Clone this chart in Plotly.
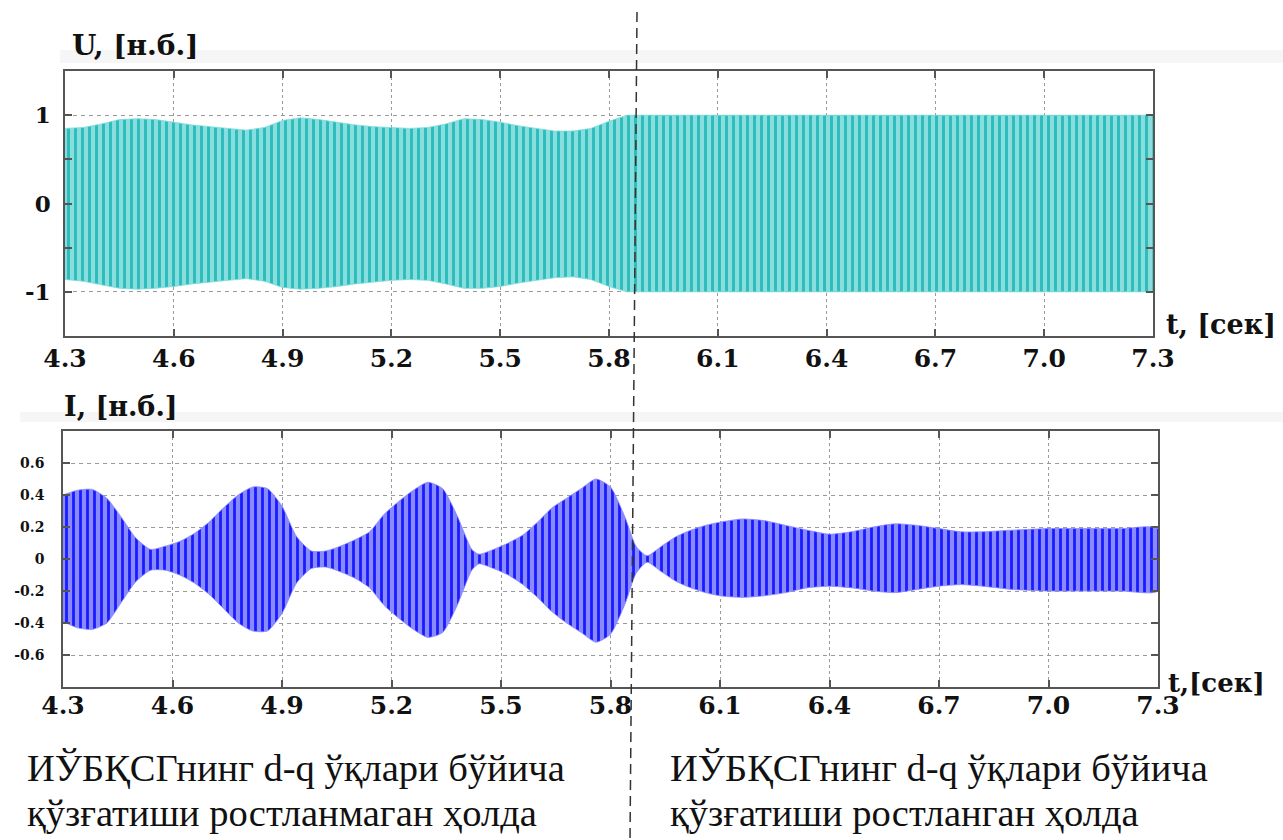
import plotly.graph_objects as go

W, H = 1283, 840

# ---------------- data ----------------
u_t = [4.30, 4.35, 4.40, 4.45, 4.50, 4.55, 4.60, 4.65, 4.70, 4.75, 4.80, 4.85,
       4.90, 4.95, 5.00, 5.05, 5.10, 5.15, 5.20, 5.25, 5.30, 5.35, 5.40, 5.45,
       5.50, 5.55, 5.60, 5.65, 5.70, 5.75, 5.80, 5.85, 5.90, 6.50, 7.30]
u_upper = [0.85, 0.86, 0.90, 0.95, 0.96, 0.95, 0.92, 0.89, 0.87, 0.85, 0.83, 0.86,
           0.94, 0.97, 0.95, 0.92, 0.89, 0.87, 0.86, 0.85, 0.86, 0.90, 0.96, 0.95,
           0.92, 0.88, 0.85, 0.82, 0.82, 0.85, 0.93, 1.00, 1.00, 1.00, 1.00]
u_lower = [-0.86, -0.88, -0.92, -0.96, -0.97, -0.96, -0.94, -0.91, -0.89, -0.87, -0.85, -0.88,
           -0.95, -0.97, -0.96, -0.94, -0.91, -0.89, -0.87, -0.86, -0.87, -0.91, -0.96, -0.96,
           -0.94, -0.90, -0.87, -0.84, -0.83, -0.86, -0.94, -1.00, -1.00, -1.00, -1.00]

i_t = [4.30, 4.34, 4.38, 4.42, 4.46, 4.50, 4.54, 4.58, 4.62, 4.66, 4.70, 4.74,
       4.78, 4.82, 4.86, 4.90, 4.94, 4.98, 5.02, 5.06, 5.10, 5.14, 5.18, 5.22,
       5.26, 5.30, 5.34, 5.38, 5.42, 5.44, 5.48, 5.52, 5.56, 5.60, 5.64, 5.68,
       5.72, 5.76, 5.80, 5.84, 5.87, 5.90, 5.94, 5.98, 6.02, 6.06, 6.10, 6.16,
       6.22, 6.28, 6.34, 6.40, 6.46, 6.52, 6.58, 6.64, 6.70, 6.76, 6.82, 6.90,
       7.00, 7.10, 7.20, 7.30]
i_upper = [0.40, 0.43, 0.435, 0.38, 0.26, 0.13, 0.06, 0.08, 0.11, 0.16, 0.23, 0.32,
           0.40, 0.45, 0.44, 0.33, 0.14, 0.05, 0.05, 0.08, 0.12, 0.17, 0.28, 0.36,
           0.43, 0.48, 0.44, 0.27, 0.06, 0.03, 0.06, 0.10, 0.15, 0.23, 0.32, 0.38,
           0.44, 0.50, 0.45, 0.26, 0.08, 0.02, 0.08, 0.14, 0.18, 0.21, 0.23, 0.25,
           0.24, 0.21, 0.18, 0.155, 0.17, 0.20, 0.22, 0.21, 0.19, 0.17, 0.17, 0.18,
           0.19, 0.19, 0.19, 0.19]
i_lower = [-0.39, -0.43, -0.44, -0.40, -0.27, -0.14, -0.07, -0.07, -0.10, -0.15, -0.22, -0.31,
           -0.40, -0.45, -0.45, -0.34, -0.15, -0.06, -0.05, -0.08, -0.12, -0.18, -0.29, -0.37,
           -0.44, -0.49, -0.46, -0.29, -0.07, -0.03, -0.06, -0.10, -0.16, -0.24, -0.33, -0.40,
           -0.46, -0.52, -0.47, -0.28, -0.09, -0.02, -0.08, -0.14, -0.18, -0.21, -0.23, -0.24,
           -0.23, -0.21, -0.18, -0.17, -0.18, -0.20, -0.21, -0.19, -0.17, -0.16, -0.17, -0.19,
           -0.20, -0.20, -0.20, -0.20]

x_ticks = [4.3, 4.6, 4.9, 5.2, 5.5, 5.8, 6.1, 6.4, 6.7, 7.0, 7.3]
x_ticktext = ["4.3", "4.6", "4.9", "5.2", "5.5", "5.8", "6.1", "6.4", "6.7", "7.0", "7.3"]
u_ticks = [-1, -0.5, 0, 0.5, 1]
u_ticktext = ["-1", "", "0", "", "1"]
i_ticks = [-0.6, -0.4, -0.2, 0, 0.2, 0.4, 0.6]
i_ticktext = ["-0.6", "-0.4", "-0.2", "0", "0.2", "0.4", "0.6"]

caption_left = ["ИЎБҚСГнинг d-q ўқлари бўйича", "қўзғатиши ростланмаган ҳолда"]
caption_right = ["ИЎБҚСГнинг d-q ўқлари бўйича", "қўзғатиши ростланган ҳолда"]

# ---------------- figure ----------------
fig = go.Figure()

fig.add_trace(go.Scatter(
    x=u_t + u_t[::-1], y=u_upper + u_lower[::-1],
    fill="toself", mode="lines",
    line=dict(color="#7fdada", width=0.8),
    fillcolor="#86dcdc",
    fillpattern=dict(shape="|", bgcolor="#88dddd", fgcolor="#2cbcbc", size=7, solidity=0.42),
    xaxis="x", yaxis="y", hoverinfo="skip", showlegend=False))

fig.add_trace(go.Scatter(
    x=i_t + i_t[::-1], y=i_upper + i_lower[::-1],
    fill="toself", mode="lines",
    line=dict(color="#8484ff", width=0.8, shape="spline", smoothing=0.6),
    fillcolor="#8484ff",
    fillpattern=dict(shape="|", bgcolor="#8a8aff", fgcolor="#1a1aff", size=7, solidity=0.4),
    xaxis="x2", yaxis="y2", hoverinfo="skip", showlegend=False))

tick_font_x = dict(family="DejaVu Serif", size=25, color="#111", weight="bold")

axis_common = dict(
    showline=True, mirror="allticks", linecolor="#555", linewidth=1.5,
    ticks="inside", ticklen=7, tickwidth=2, tickcolor="#555",
    showgrid=True, gridcolor="#9a9a9a", gridwidth=1, zeroline=False,
    automargin=False,
)

fig.update_layout(
    template="none",
    width=W, height=H,
    paper_bgcolor="white", plot_bgcolor="white",
    margin=dict(l=0, r=0, t=0, b=0, pad=0, autoexpand=False),
    showlegend=False,
    xaxis=dict(domain=[65 / W, 1153 / W], range=[4.3, 7.3], anchor="y",
               tickvals=x_ticks, ticktext=x_ticktext, tickfont=tick_font_x,
               griddash="dot", ticklabelstandoff=-1, **axis_common),
    yaxis=dict(domain=[1 - 336 / H, 1 - 71 / H], range=[-1.5, 1.5], anchor="x",
               tickvals=u_ticks, ticktext=u_ticktext,
               tickfont=dict(family="DejaVu Serif", size=23, color="#111", weight="bold"),
               griddash="4px,4px", ticklabelstandoff=8, **axis_common),
    xaxis2=dict(domain=[63 / W, 1158 / W], range=[4.3, 7.3], anchor="y2",
                tickvals=x_ticks, ticktext=x_ticktext, tickfont=tick_font_x,
                griddash="dot", ticklabelstandoff=-5, **axis_common),
    yaxis2=dict(domain=[1 - 687 / H, 1 - 431 / H], range=[-0.8, 0.8], anchor="x2",
                tickvals=i_ticks, ticktext=i_ticktext,
                tickfont=dict(family="DejaVu Serif", size=14, color="#111", weight="bold"),
                griddash="4px,4px", ticklabelstandoff=14, **axis_common),
)

# faint screenshot strips
fig.add_shape(type="rect", xref="paper", yref="paper", x0=60 / W, x1=1, y0=1 - 63 / H, y1=1 - 50 / H,
              fillcolor="#f6f6f6", line=dict(width=0), layer="below")
fig.add_shape(type="rect", xref="paper", yref="paper", x0=20 / W, x1=1, y0=1 - 422 / H, y1=1 - 412 / H,
              fillcolor="#f6f6f6", line=dict(width=0), layer="below")

# dashed separator
fig.add_shape(type="line", xref="paper", yref="paper",
              x0=637 / W, y0=1 - 12 / H, x1=630 / W, y1=0,
              line=dict(color="#333", width=1.5, dash="10px,6px"))

lab_font = dict(family="DejaVu Serif", color="#111", weight="bold")
ann = [
    dict(text="U, [н.б.]", x=70 / W, y=1 - 45 / H, size=28),
    dict(text="t, [сек]", x=1164 / W, y=1 - 325 / H, size=27),
    dict(text="I, [н.б.]", x=62 / W, y=1 - 406 / H, size=27),
    dict(text="t,[сек]", x=1166 / W, y=1 - 683 / H, size=26),
]
for a in ann:
    fig.add_annotation(text=a["text"], x=a["x"], y=a["y"], xref="paper", yref="paper",
                       xanchor="left", yanchor="middle", showarrow=False,
                       font=dict(size=a["size"], **lab_font))

cap_font = dict(family="Liberation Serif", size=38.5, color="#111")
for x0, lines in ((25, caption_left), (668, caption_right)):
    for yc, line in zip((768, 813), lines):
        fig.add_annotation(text=line, x=x0 / W, y=1 - yc / H, xref="paper", yref="paper",
                           xanchor="left", yanchor="middle", align="left", showarrow=False,
                           font=cap_font)

fig.write_html("out.html", config={"displayModeBar": False},
               post_script="document.body.style.margin='0';")
